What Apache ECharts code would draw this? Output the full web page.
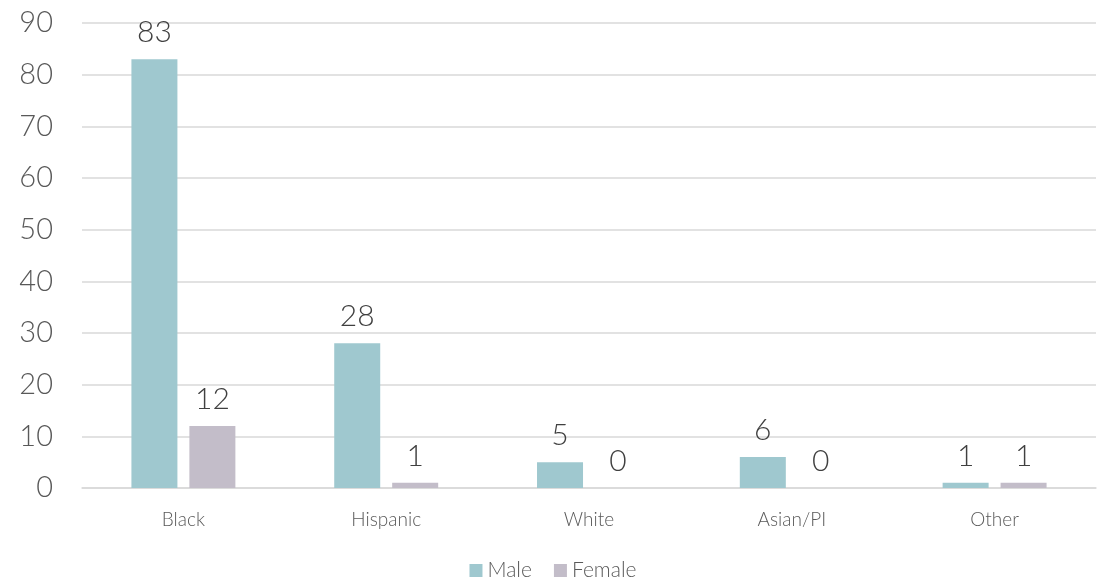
<!DOCTYPE html>
<html><head><meta charset="utf-8">
<script src="https://cdn.jsdelivr.net/npm/echarts@6/dist/echarts.min.js"></script>
<style>html,body{margin:0;padding:0;background:#fff}#c{width:1106px;height:586px}</style>
</head><body><div id="c"></div>
<script>
const categories = ["Black", "Hispanic", "White", "Asian/PI", "Other"];
const male = [83, 28, 5, 6, 1];
const female = [12, 1, 0, 0, 1];
const yTicks = [0, 10, 20, 30, 40, 50, 60, 70, 80, 90];

const font = "Lato, 'Noto Sans', sans-serif";
const chart = echarts.init(document.getElementById('c'));
chart.setOption({
  animation: false,
  textStyle: { fontFamily: font },
  grid: { left: 82, right: 10, top: 23, bottom: 98 },
  legend: {
    bottom: 0, left: 'center', itemWidth: 13, itemHeight: 13, itemGap: 22,
    icon: 'rect',
    textStyle: { fontSize: 21, color: '#595959', fontFamily: font, fontWeight: 300 },
    data: ['Male', 'Female']
  },
  xAxis: {
    type: 'category', data: categories,
    axisLine: { lineStyle: { color: '#D9D9D9', width: 1.5 } },
    axisTick: { show: false },
    axisLabel: { fontSize: 19, color: '#595959', margin: 22, fontFamily: font, fontWeight: 300 }
  },
  yAxis: {
    type: 'value', min: yTicks[0], max: yTicks[yTicks.length - 1], interval: 10,
    axisLine: { show: false }, axisTick: { show: false },
    splitLine: { lineStyle: { color: '#D9D9D9', width: 1.5 } },
    axisLabel: { fontSize: 29, color: '#595959', margin: 29, fontFamily: font, fontWeight: 300 }
  },
  series: [
    { name: 'Male', type: 'bar', data: male, barWidth: 46, barGap: '26%',
      itemStyle: { color: '#9FC8CF' },
      label: { show: true, position: 'top', distance: 12, fontSize: 30, color: '#404040', fontFamily: font, fontWeight: 300 } },
    { name: 'Female', type: 'bar', data: female, barWidth: 46,
      itemStyle: { color: '#C3BDC9' },
      label: { show: true, position: 'top', distance: 12, fontSize: 30, color: '#404040', fontFamily: font, fontWeight: 300 } }
  ]
});
</script></body></html>
